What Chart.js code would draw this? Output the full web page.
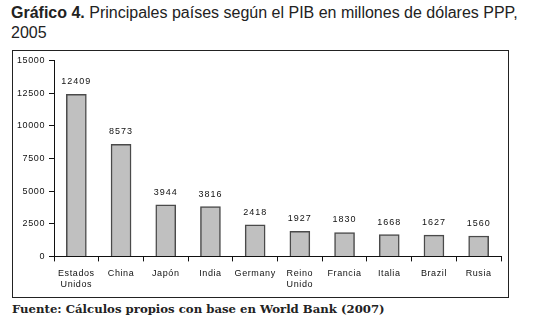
<!DOCTYPE html>
<html>
<head>
<meta charset="utf-8">
<script src="https://cdn.jsdelivr.net/npm/chart.js@4"></script>
<style>
	body { margin: 0; background: #fff; width: 545px; height: 325px; position: relative; overflow: hidden; }
	#title { position: absolute; left: 11px; top: 3px; font-family: 'Liberation Sans', Arial, sans-serif; font-size: 16px; line-height: 20px; color: #222; }
	#box { position: absolute; left: 12px; top: 50px; width: 495px; height: 246px; border: 1px solid #222; }
	#source { position: absolute; left: 12px; top: 302px; font-family: 'DejaVu Serif', 'Liberation Serif', serif; font-weight: bold; font-size: 11.7px; color: #222; }
</style>
</head>
<body>
<div id="title"><b>Gráfico 4.</b> Principales países según el PIB en millones de dólares PPP,<br>2005</div>
<div id="box"><canvas id="pib" width="495" height="246"></canvas></div>
<div id="source">Fuente: Cálculos propios con base en World Bank (2007)</div>
<script>
const countries = [['Estados', 'Unidos'], 'China', 'Japón', 'India', 'Germany', ['Reino', 'Unido'], 'Francia', 'Italia', 'Brazil', 'Rusia'];
const gdp = [12409, 8573, 3944, 3816, 2418, 1927, 1830, 1668, 1627, 1560];
const yTicks = [0, 2500, 5000, 7500, 10000, 12500, 15000];

// slightly spaced-out figures, like the original
const spacing = {
	id: 'spacing',
	beforeDraw(chart) {
		if ('letterSpacing' in chart.ctx) chart.ctx.letterSpacing = '0.6px';
	}
};

// numbers above each bar
const valueLabels = {
	id: 'valueLabels',
	afterDatasetsDraw(chart) {
		const ctx = chart.ctx;
		const meta = chart.getDatasetMeta(0);
		ctx.save();
		ctx.font = '9px "Liberation Sans", Arial, sans-serif';
		ctx.fillStyle = '#111';
		ctx.textAlign = 'center';
		ctx.textBaseline = 'bottom';
		if ('letterSpacing' in ctx) ctx.letterSpacing = '1px';
		meta.data.forEach((bar, i) => {
			ctx.fillText(String(gdp[i]), bar.x, bar.y - 8);
		});
		ctx.restore();
	}
};

const ctx = document.getElementById('pib').getContext('2d');
new Chart(ctx, {
	type: 'bar',
	data: {
		labels: countries,
		datasets: [{
			data: gdp,
			backgroundColor: '#c0c0c0',
			borderColor: '#4a4a4a',
			borderWidth: 1.5,
			barThickness: 20,
		}],
	},
	options: {
		responsive: false,
		animation: false,
		layout: { padding: { top: 0, right: 7, bottom: 0, left: 0 } },
		plugins: { legend: { display: false }, tooltip: { enabled: false } },
		scales: {
			x: {
				offset: true,
				grid: { display: true, drawOnChartArea: false, offset: true, tickLength: 5, color: '#111' },
				border: { color: '#111', width: 1 },
				ticks: { color: '#111', font: { family: '"Liberation Sans", Arial, sans-serif', size: 9 }, maxRotation: 0, autoSkip: false, padding: 7 },
			},
			y: {
				min: 0,
				max: 15000,
				afterBuildTicks(axis) { axis.ticks = yTicks.map(v => ({ value: v })); },
				afterFit(axis) { axis.width = 41; },
				grid: { display: true, drawOnChartArea: false, tickLength: 5, color: '#111' },
				border: { color: '#111', width: 1 },
				ticks: {
					color: '#111',
					font: { family: '"Liberation Sans", Arial, sans-serif', size: 9 },
					padding: 4,
					callback: v => String(v),
				},
			},
		},
	},
	plugins: [spacing, valueLabels],
});
</script>
</body>
</html>
